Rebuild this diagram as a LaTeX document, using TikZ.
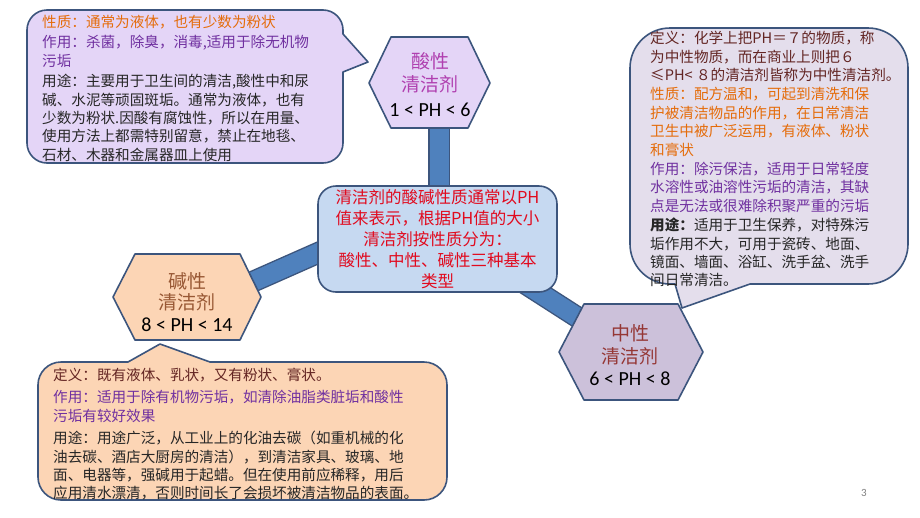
\documentclass[tikz,border=0pt]{standalone}
\usepackage{fontspec}
\setmainfont{Noto Sans CJK SC}
\newfontfamily\numfont{Carlito}
\definecolor{edgec}{RGB}{60,85,125}
\definecolor{connblue}{RGB}{79,129,189}
\definecolor{lavfill}{RGB}{228,213,247}
\definecolor{trfill}{RGB}{228,222,236}
\definecolor{peach}{RGB}{252,213,181}
\definecolor{neufill}{RGB}{204,193,218}
\definecolor{midfill}{RGB}{198,217,241}
\definecolor{orangetxt}{RGB}{228,108,10}
\definecolor{purpletxt}{RGB}{112,48,160}
\definecolor{darktxt}{RGB}{38,38,38}
\definecolor{maroontxt}{RGB}{99,37,35}
\definecolor{acidtxt}{RGB}{176,64,176}
\definecolor{basictxt}{RGB}{152,88,52}
\definecolor{neutxt}{RGB}{149,55,53}
\definecolor{redtxt}{RGB}{225,10,30}
\begin{document}
\begin{tikzpicture}[x=1pt,y=-1pt,
  shapeline/.style={draw=edgec,line width=1.6pt,line join=round},
  conn/.style={draw=edgec,line width=1.4pt,double=connblue,double distance=19pt},
  bodytext/.style={anchor=north west,inner sep=0pt,align=left,font=\fontsize{14.6}{18.4}\selectfont},
  hextext/.style={inner sep=0pt,align=center,font=\fontsize{19}{23}\selectfont}]
\fill[white] (0,0) rectangle (920,517);
\useasboundingbox (0,0) rectangle (920,517);
% connector end points
\coordinate (acidIn) at (439,110);
\coordinate (midTop) at (439,205);
\coordinate (basicIn) at (216,298);
\coordinate (midLeft) at (363,233);
\coordinate (midBR) at (493,263);
\coordinate (neuIn) at (602,333);
\draw[conn] (acidIn) -- (midTop);
\draw[conn] (basicIn) -- (midLeft);
\draw[conn] (midBR) -- (neuIn);
% top-left callout
\draw[shapeline,fill=lavfill] (47,10) -- (323,10) arc[start angle=270,end angle=360,radius=20]
  -- (343,34) -- (368,62) -- (343,72) -- (343,143) arc[start angle=0,end angle=90,radius=20]
  -- (47,163) arc[start angle=90,end angle=180,radius=20]
  -- (27,30) arc[start angle=180,end angle=270,radius=20] -- cycle;
% top-right callout
\draw[shapeline,fill=trfill] (670,28) -- (868,28) arc[start angle=270,end angle=360,radius=40]
  -- (908,244) arc[start angle=0,end angle=90,radius=40]
  -- (750,284) -- (682,308) -- (675,284) -- (670,284) arc[start angle=90,end angle=180,radius=40]
  -- (630,68) arc[start angle=180,end angle=270,radius=40] -- cycle;
% bottom-left callout
\draw[shapeline,fill=peach] (61,362) -- (128,362) -- (160,344) -- (210,362) -- (424,362)
  arc[start angle=270,end angle=360,radius=23]
  -- (447,477) arc[start angle=0,end angle=90,radius=23]
  -- (61,500) arc[start angle=90,end angle=180,radius=23]
  -- (38,385) arc[start angle=180,end angle=270,radius=23] -- cycle;
% hexagons
\draw[shapeline,fill=lavfill] (369,83) -- (391,37) -- (468,37) -- (490,83) -- (468,128) -- (391,128) -- cycle;
\draw[shapeline,fill=peach] (113,297) -- (135,254) -- (240,254) -- (261,297) -- (240,340) -- (135,340) -- cycle;
\draw[shapeline,fill=neufill] (559,352) -- (584,304) -- (678,304) -- (703,352) -- (678,400) -- (584,400) -- cycle;
% centre box
\node[shapeline,fill=midfill,rounded corners=18pt,minimum width=239pt,minimum height=106pt,
  inner sep=0pt,align=center,text=redtxt,font=\fontsize{16.5}{21}\selectfont] (mid) at (437.5,239)
  {清洁剂的酸碱性质通常以PH\\值来表示，根据PH值的大小\\清洁剂按性质分为：\\酸性、中性、碱性三种基本\\类型};
% hexagon texts
\node[hextext] (acid) at (430,85) {{\color{acidtxt}酸性}\\{\color{acidtxt}清洁剂}\\[2pt]{\numfont\fontsize{20}{23}\selectfont 1 < PH < 6}};
\node[hextext] (basic) at (187,302) {{\color{basictxt}碱性}\\[-2pt]{\color{basictxt}清洁剂}\\[-1pt]{\numfont\fontsize{20}{23}\selectfont 8 < PH < 14}};
\node[hextext] (neutral) at (630,355) {{\color{neutxt}中性}\\{\color{neutxt}清洁剂}\\[-1pt]{\numfont\fontsize{20}{23}\selectfont 6 < PH < 8}};
% callout texts
\node[bodytext] (acidnote) at (42,15) {\color{orangetxt}性质：通常为液体，也有少数为粉状\\[2pt]
\color{purpletxt}作用：杀菌，除臭，消毒,适用于除无机物\\
\color{purpletxt}污垢\\[2pt]
\color{darktxt}用途：主要用于卫生间的清洁,酸性中和尿\\
\color{darktxt}碱、水泥等顽固斑垢。通常为液体，也有\\
\color{darktxt}少数为粉状.因酸有腐蚀性，所以在用量、\\
\color{darktxt}使用方法上都需特别留意，禁止在地毯、\\
\color{darktxt}石材、木器和金属器皿上使用};
\node[bodytext] (neunote) at (650,31) {\color{maroontxt}定义：化学上把PH＝７的物质，称\\
\color{maroontxt}为中性物质，而在商业上则把６\\
\color{maroontxt}≤PH< ８的清洁剂皆称为中性清洁剂。\\[1pt]
\color{orangetxt}性质：配方温和，可起到清洗和保\\
\color{orangetxt}护被清洁物品的作用，在日常清洁\\
\color{orangetxt}卫生中被广泛运用，有液体、粉状\\
\color{orangetxt}和膏状\\[1pt]
\color{purpletxt}作用：除污保洁，适用于日常轻度\\
\color{purpletxt}水溶性或油溶性污垢的清洁，其缺\\
\color{purpletxt}点是无法或很难除积聚严重的污垢\\[1pt]
\color{darktxt}{\bfseries 用途：}适用于卫生保养，对特殊污\\
\color{darktxt}垢作用不大，可用于瓷砖、地面、\\
\color{darktxt}镜面、墙面、浴缸、洗手盆、洗手\\
\color{darktxt}间日常清洁。};
\node[bodytext] (basicnote) at (53,368) {\color{maroontxt}定义：既有液体、乳状，又有粉状、膏状。\\[4pt]
\color{purpletxt}作用：适用于除有机物污垢，如清除油脂类脏垢和酸性\\
\color{purpletxt}污垢有较好效果\\[4pt]
\color{darktxt}用途：用途广泛，从工业上的化油去碳（如重机械的化\\
\color{darktxt}油去碳、酒店大厨房的清洁），到清洁家具、玻璃、地\\
\color{darktxt}面、电器等，强碱用于起蜡。但在使用前应稀释，用后\\
\color{darktxt}应用清水漂清，否则时间长了会损坏被清洁物品的表面。};
\node[text=gray,font=\numfont\fontsize{11}{13}\selectfont] (page) at (864,493) {3};
\end{tikzpicture}
\end{document}
